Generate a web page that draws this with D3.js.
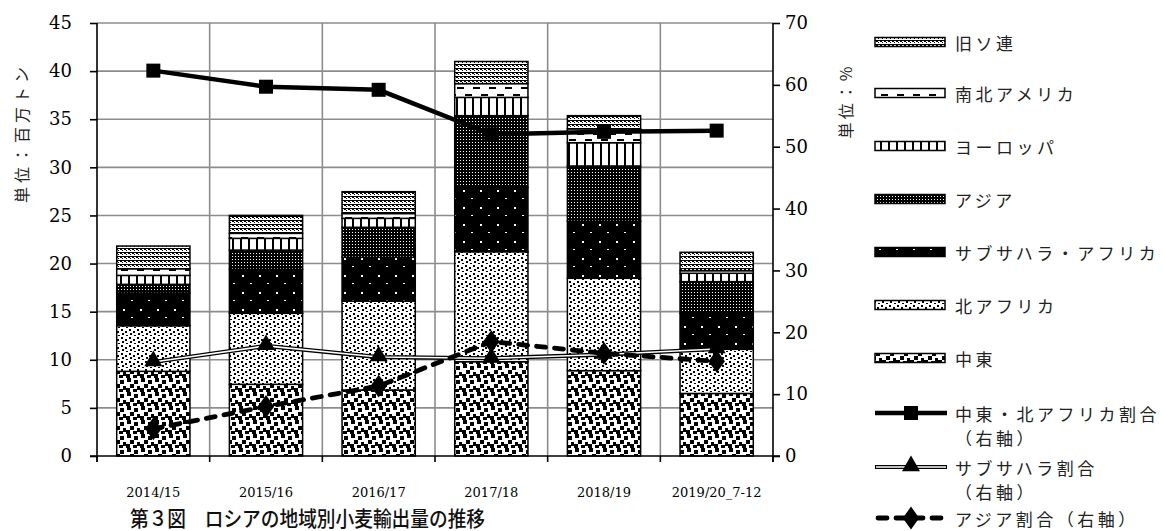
<!DOCTYPE html>
<html><head><meta charset="utf-8">
<script src="https://cdn.jsdelivr.net/npm/d3@7"></script>
<style>
html,body{margin:0;padding:0;background:#fff;}
svg{display:block;}
.jp{font-family:"Noto Sans CJK JP","Noto Sans",sans-serif;}
.num{font-family:"DejaVu Serif","Liberation Serif",serif;}
</style></head>
<body>
<svg id="chart" width="1165" height="531"></svg>
<script>
const categories = ["2014/15","2015/16","2016/17","2017/18","2018/19","2019/20_7-12"];
const seriesNames = ["中東","北アフリカ","サブサハラ・アフリカ","アジア","ヨーロッパ","南北アメリカ","旧ソ連"];
const middleEast  = [8.8, 7.45, 6.86, 9.8, 8.87, 6.5];
const northAfrica = [4.74, 7.38, 9.24, 11.43, 9.6, 4.59];
const subSahara   = [3.4, 4.57, 4.55, 6.67, 5.93, 3.74];
const asia        = [0.9, 2.0, 3.12, 7.47, 5.74, 3.29];
const europe      = [0.93, 1.22, 0.93, 1.9, 2.42, 0.87];
const americas    = [0.69, 0.52, 0.5, 1.43, 1.44, 0.27];
const formerUSSR  = [2.36, 1.86, 2.27, 2.3, 1.37, 1.91];
const menaShare   = [62.3, 59.7, 59.2, 52.0, 52.4, 52.6];
const ssaShare    = [15.2, 17.8, 16.0, 15.8, 16.4, 17.3];
const asiaShare   = [4.4, 8.0, 11.3, 18.5, 16.6, 15.3];
const leftTicks   = [0,5,10,15,20,25,30,35,40,45];
const rightTicks  = [0,10,20,30,40,50,60,70];

const svg = d3.select("#chart");
const L = 97, R = 773, T = 23, B = 456;

const x = d3.scaleBand().domain(categories).range([L,R]).paddingInner(0.35).paddingOuter(0.175);
const y = d3.scaleLinear().domain([0,45]).range([B,T]);
const y2 = d3.scaleLinear().domain([0,70]).range([B,T]);

// patterns
const defs = svg.append("defs");
const pid = ["pME","pNA","pSS","pAS","pEU","pAM","pFS"];
function pat(id,w,h){ return defs.append("pattern").attr("id",id).attr("patternUnits","userSpaceOnUse").attr("width",w).attr("height",h); }
function sq(p,xx,yy,w,h,c){ p.append("rect").attr("x",xx).attr("y",yy).attr("width",w).attr("height",h).attr("fill",c); }
// 中東: white with bold black squares
{ const p = pat("pME",14,14); sq(p,0,0,14,14,"#fff");
  [[1,0],[8,2],[4,6],[11,8],[0,10],[7,11]].forEach(d=>sq(p,d[0],d[1],4,4,"#000")); }
// 北アフリカ: white with small dots
{ const p = pat("pNA",8,8); sq(p,0,0,8,8,"#fff");
  [[1,1],[5,3],[2,5],[6,7]].forEach(d=>sq(p,d[0],d[1],2,2,"#000")); }
// サブサハラ: black with sparse white dots
{ const p = pat("pSS",17,17); sq(p,0,0,17,17,"#000");
  sq(p,4,3,2,2,"#fff"); sq(p,12,11,2,1,"#fff"); }
// アジア: black with dense white dots
{ const p = pat("pAS",3,3); sq(p,0,0,3,3,"#000"); sq(p,1,1,1,1,"#fff"); }
// ヨーロッパ: vertical lines
{ const p = pat("pEU",8,10); sq(p,0,0,8,10,"#fff"); sq(p,0,0,2,10,"#000"); }
// 南北アメリカ: dashes
{ const p = pat("pAM",16,13); sq(p,0,0,16,13,"#fff");
  sq(p,1,3,7,2,"#000"); sq(p,9,9,7,2,"#000"); }
// 旧ソ連: fine dotted grid
{ const p = pat("pFS",4,4); sq(p,0,0,4,4,"#fff"); sq(p,0,0,2,2,"#000"); sq(p,2,2,1,1,"#000"); sq(p,2,0,2,1,"#000"); }

// gridlines
const grid = svg.append("g");
grid.selectAll("line.h").data(leftTicks.filter(d=>d>0)).join("line")
  .attr("x1",L).attr("x2",R).attr("y1",d=>y(d)).attr("y2",d=>y(d))
  .attr("stroke","#8c8c8c").attr("stroke-width",1.6);
const bounds = categories.slice(1).map(c=>x(c)-x.step()*x.paddingInner()/2);
grid.selectAll("line.v").data(bounds).join("line")
  .attr("x1",d=>d).attr("x2",d=>d).attr("y1",T).attr("y2",B)
  .attr("stroke","#8c8c8c").attr("stroke-width",1.6);

// stacked bars
const seriesData = [middleEast,northAfrica,subSahara,asia,europe,americas,formerUSSR];
const rows = categories.map((c,i)=>{ const o={cat:c}; seriesNames.forEach((n,k)=>o[n]=seriesData[k][i]); return o; });
const stack = d3.stack().keys(seriesNames)(rows);
const gb = svg.append("g");
stack.forEach((s,k)=>{
  gb.selectAll(null).data(s).join("rect")
    .attr("x",d=>x(d.data.cat)).attr("width",x.bandwidth())
    .attr("y",d=>y(d[1])).attr("height",d=>y(d[0])-y(d[1]))
    .attr("fill",`url(#${pid[k]})`).attr("stroke","#000").attr("stroke-width",1.5);
});

// axes
const ax = svg.append("g");
ax.append("line").attr("x1",L).attr("x2",L).attr("y1",T).attr("y2",B+6).attr("stroke","#000").attr("stroke-width",1.6);
ax.append("line").attr("x1",R).attr("x2",R).attr("y1",T).attr("y2",B+6).attr("stroke","#000").attr("stroke-width",1.6);
ax.append("line").attr("x1",L-7).attr("x2",R+7).attr("y1",B).attr("y2",B).attr("stroke","#000").attr("stroke-width",1.6);

const la = svg.append("g").attr("transform",`translate(${L},0)`).call(d3.axisLeft(y).tickValues(leftTicks).tickSize(7).tickPadding(18));
const ra = svg.append("g").attr("transform",`translate(${R},0)`).call(d3.axisRight(y2).tickValues(rightTicks).tickSize(7).tickPadding(5));
[la,ra].forEach(g=>{ g.select(".domain").remove(); g.selectAll("line").attr("stroke","#000").attr("stroke-width",1.6);
  g.selectAll("text").attr("class","num").attr("font-size",18).attr("fill","#000"); });
// x ticks at boundaries
ax.selectAll("line.xt").data([L,...bounds,R]).join("line")
  .attr("x1",d=>d).attr("x2",d=>d).attr("y1",B).attr("y2",B+6).attr("stroke","#000").attr("stroke-width",1.6);
svg.append("g").selectAll("text").data(categories).join("text")
  .attr("class","num").attr("x",d=>x(d)+x.bandwidth()/2).attr("y",497)
  .attr("text-anchor","middle").attr("font-size",13).text(d=>d);

// lines
const cx = c=>x(c)+x.bandwidth()/2;
const line = d3.line().x((d,i)=>cx(categories[i])).y(d=>y2(d));
const gl = svg.append("g");
gl.append("path").attr("d",line(menaShare)).attr("fill","none").attr("stroke","#000").attr("stroke-width",4.5);
gl.selectAll("rect.m").data(menaShare).join("rect")
  .attr("x",(d,i)=>cx(categories[i])-7).attr("y",d=>y2(d)-7).attr("width",14).attr("height",14).attr("fill","#000");
gl.append("path").attr("d",line(ssaShare)).attr("fill","none").attr("stroke","#000").attr("stroke-width",4.2);
gl.append("path").attr("d",line(ssaShare)).attr("fill","none").attr("stroke","#fff").attr("stroke-width",1.6);
const tri = d3.symbol().type(d3.symbolTriangle).size(140);
gl.selectAll("path.t").data(ssaShare).join("path")
  .attr("d",tri).attr("transform",(d,i)=>`translate(${cx(categories[i])},${y2(d)-1})`).attr("fill","#000");
gl.append("path").attr("d",line(asiaShare)).attr("fill","none").attr("stroke","#000").attr("stroke-width",4.8)
  .attr("stroke-dasharray","9,9").attr("stroke-linecap","round");
const dia = d3.symbol().type(d3.symbolDiamond).size(150);
gl.selectAll("path.d").data(asiaShare).join("path")
  .attr("d",dia).attr("transform",(d,i)=>`translate(${cx(categories[i])},${y2(d)}) scale(1.25,1)`).attr("fill","#000");

// axis titles
svg.append("text").attr("class","jp").attr("transform","translate(21,133) rotate(-90)")
  .attr("text-anchor","middle").attr("dominant-baseline","central").attr("font-size",16).attr("letter-spacing",4).attr("fill","#222").text("単位：百万トン");
svg.append("text").attr("class","jp").attr("transform","translate(845,101) rotate(-90)")
  .attr("text-anchor","middle").attr("dominant-baseline","central").attr("font-size",16).attr("letter-spacing",3).attr("fill","#222").text("単位：%");

// legend
const lg = svg.append("g");
const legendOrder = [6,5,4,3,2,1,0];
const legY = [42,93,146,199,252,305,358];
legendOrder.forEach((k,i)=>{
  lg.append("rect").attr("x",875).attr("y",legY[i]-4.5).attr("width",70).attr("height",9)
    .attr("fill",`url(#${pid[k]})`).attr("stroke","#000").attr("stroke-width",1.5);
  lg.append("text").attr("class","jp").attr("x",955).attr("y",legY[i]).attr("dominant-baseline","central")
    .attr("font-size",17).attr("letter-spacing",3.5).attr("fill","#222").text(seriesNames[k]);
});
const lineLeg = [
  {y:413, t1:"中東・北アフリカ割合", t2:"（右軸）", kind:"mena"},
  {y:467, t1:"サブサハラ割合", t2:"（右軸）", kind:"ssa"},
  {y:518, t1:"アジア割合（右軸）", t2:null, kind:"asia"}
];
lineLeg.forEach(d=>{
  if(d.kind==="mena"){
    lg.append("line").attr("x1",875).attr("x2",947).attr("y1",d.y).attr("y2",d.y).attr("stroke","#000").attr("stroke-width",4.5);
    lg.append("rect").attr("x",904).attr("y",d.y-7).attr("width",14).attr("height",14).attr("fill","#000");
  } else if(d.kind==="ssa"){
    lg.append("line").attr("x1",875).attr("x2",947).attr("y1",d.y).attr("y2",d.y).attr("stroke","#000").attr("stroke-width",4.2);
    lg.append("line").attr("x1",876).attr("x2",946).attr("y1",d.y).attr("y2",d.y).attr("stroke","#fff").attr("stroke-width",1.6);
    lg.append("path").attr("d",tri).attr("transform",`translate(911,${d.y-1})`).attr("fill","#000");
  } else {
    lg.append("line").attr("x1",878).attr("x2",945).attr("y1",d.y).attr("y2",d.y).attr("stroke","#000").attr("stroke-width",4.8)
      .attr("stroke-dasharray","9,9").attr("stroke-linecap","round");
    lg.append("path").attr("d",dia).attr("transform",`translate(911,${d.y}) scale(1.25,1)`).attr("fill","#000");
  }
  lg.append("text").attr("class","jp").attr("x",955).attr("y",d.y).attr("dominant-baseline","central")
    .attr("font-size",17).attr("letter-spacing",3.5).attr("fill","#222").text(d.t1);
  if(d.t2) lg.append("text").attr("class","jp").attr("x",955).attr("y",d.y+24).attr("dominant-baseline","central")
    .attr("font-size",17).attr("letter-spacing",3.5).attr("fill","#222").text(d.t2);
});

// title
svg.append("text").attr("class","jp").attr("x",130).attr("y",517).attr("dominant-baseline","central").attr("font-size",21)
  .attr("font-weight",500).attr("textLength",355).attr("lengthAdjust","spacingAndGlyphs").attr("fill","#111")
  .text("第３図　ロシアの地域別小麦輸出量の推移");
</script>
</body></html>
